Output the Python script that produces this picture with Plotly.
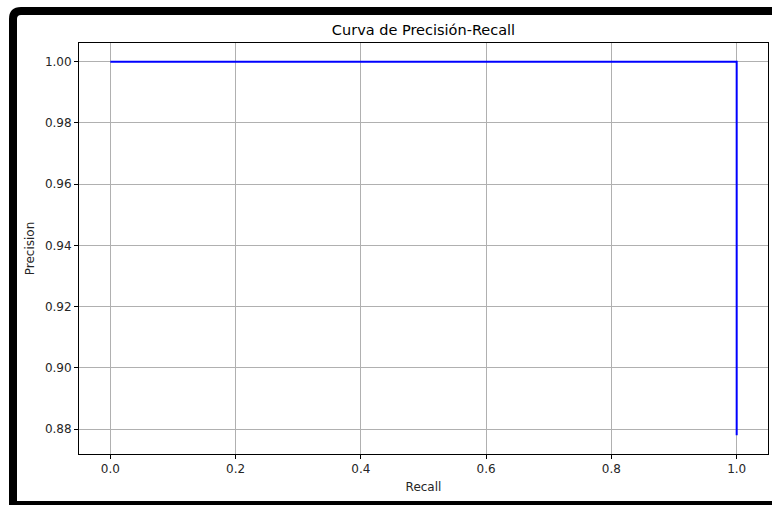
import plotly.graph_objects as go

# Precision-recall curve points
recall = [0.0, 1.0, 1.0]
precision = [1.0, 1.0, 0.878]

x_ticks = [0.0, 0.2, 0.4, 0.6, 0.8, 1.0]
y_ticks = [0.88, 0.90, 0.92, 0.94, 0.96, 0.98, 1.00]

W, H = 772, 505
ML, MR, MT, MB = 79, 4, 43, 51
PW, PH = W - ML - MR, H - MT - MB


def px(x):
    return (x - ML) / PW


def py(y):
    return (H - MB - y) / PH


font = dict(family="DejaVu Sans", size=12, color="#262626")

fig = go.Figure()
fig.add_trace(go.Scatter(
    x=recall, y=precision, mode="lines",
    line=dict(color="#0000ff", width=2),
    showlegend=False, hoverinfo="skip",
))

axis_common = dict(
    showgrid=True, gridcolor="#b0b0b0", gridwidth=1,
    showline=True, linecolor="black", linewidth=1, mirror=True,
    ticks="outside", ticklen=4, tickcolor="black", tickwidth=1,
    zeroline=False, tickfont=font,
)

fig.update_xaxes(
    range=[-0.05, 1.05], tickvals=x_ticks, tickformat=".1f",
    title=dict(text="Recall", font=font, standoff=7), **axis_common,
)
fig.update_yaxes(
    range=[0.8719, 1.0061], tickvals=y_ticks, tickformat=".2f",
    title=dict(text="Precision", font=font, standoff=7), **axis_common,
)

# Black rounded frame around the figure
L, T, B, R = 13, 11, 505, 790
r = 8
path = (
    f"M {px(L)} {py(B)} L {px(L)} {py(T + r)} "
    f"Q {px(L)} {py(T)} {px(L + r)} {py(T)} "
    f"L {px(R)} {py(T)}"
)
fig.add_shape(type="path", path=path, xref="paper", yref="paper",
              line=dict(color="black", width=8))
fig.add_shape(type="line", xref="paper", yref="paper",
              x0=px(L - 4), x1=px(R), y0=py(B), y1=py(B),
              line=dict(color="black", width=8))

fig.update_layout(
    width=W, height=H,
    margin=dict(l=ML, r=MR, t=MT, b=MB, autoexpand=False),
    paper_bgcolor="white", plot_bgcolor="white",
    title=dict(text="Curva de Precisión-Recall", x=0.5, xref="paper",
               y=1 - 30 / H, yref="container", xanchor="center", yanchor="middle",
               font=dict(family="DejaVu Sans", size=14.5, color="black")),
)

fig.write_html("out.html")
